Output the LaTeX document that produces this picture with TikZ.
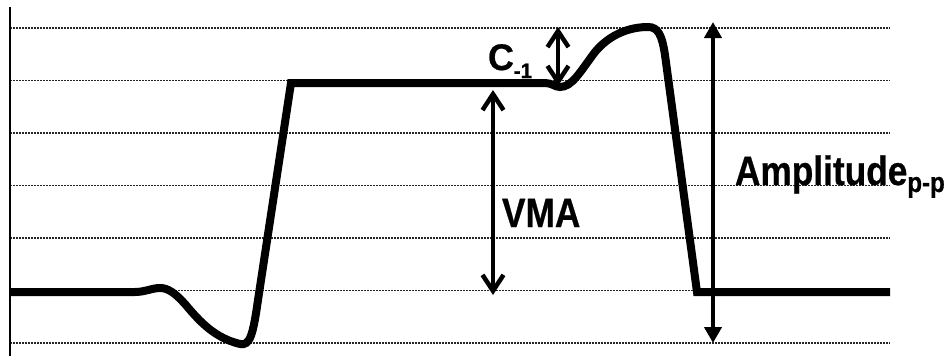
\documentclass[tikz,border=0pt]{standalone}
\usepackage{fontspec}
\usetikzlibrary{arrows.meta}
\newfontfamily\labfont[FakeStretch=0.86,FakeBold=0.6]{Liberation Sans}
\newfontfamily\labfontC[FakeStretch=0.97,FakeBold=0.6]{Liberation Sans}
\begin{document}
\begin{tikzpicture}[x=1pt,y=-1pt,
  grid/.style={draw=black!85,line width=1.7pt,dash pattern=on 1.5pt off 1.5pt},
  wave/.style={draw=black,line width=8pt,line join=miter,line cap=butt},
  barbarrow/.style={draw=black,line width=4.5pt,
     {Straight Barb[length=16pt,width=21pt,line width=4.5pt]}-{Straight Barb[length=16pt,width=21pt,line width=4.5pt]}},
  triarrow/.style={draw=black,line width=4pt,
     {Triangle[length=16pt,width=17pt]}-{Triangle[length=16pt,width=17pt]}},
  lab/.style={inner sep=0pt,outer sep=0pt,anchor=base west,font=\labfont\bfseries\fontsize{41}{41}\selectfont}]
\useasboundingbox (0,0) rectangle (948,356);
% grid lines
\foreach \yy in {28,80.5,133,185.5,238,290.5,343}{
  \draw[grid] (10,\yy) -- (890,\yy);
}
% vertical axis
\coordinate (axtop) at (10,7);
\coordinate (axbot) at (10,356);
\draw[line width=1.8pt] (axtop) -- (axbot);
% waveform
\draw[wave] (10,292) -- (135,292)
  .. controls (145,292) and (152,288) .. (160,288)
  .. controls (168,288) and (175,293) .. (185,304)
  .. controls (200,322) and (215,338) .. (240,344)
  .. controls (250,346) and (253,335) .. (258,300)
  -- (291,83) -- (545,83)
  .. controls (552,83) and (555,87) .. (560,87)
  .. controls (572,87) and (580,72) .. (595,52)
  .. controls (610,34) and (630,27) .. (648,27)
  .. controls (658,27) and (662,35) .. (665,55)
  -- (697,292) -- (890,292);
% arrows
\coordinate (ctop) at (558,27);
\coordinate (cbot) at (558,86);
\draw[barbarrow] (ctop) -- (cbot);
\coordinate (vtop) at (493,90);
\coordinate (vbot) at (493,295);
\draw[barbarrow] (vtop) -- (vbot);
\coordinate (atop) at (713,22);
\coordinate (abot) at (713,343);
\draw[triarrow] (atop) -- (abot);
% labels
\node[lab,font=\labfontC\bfseries\fontsize{37}{37}\selectfont] (clab) at (488,70) {C\raisebox{-8pt}{\fontsize{21}{21}\selectfont -1}};
\node[lab] (vma) at (502,227) {VMA};
\node[lab] (amp) at (735,185) {Amplitude\raisebox{-7pt}{\fontsize{28}{28}\selectfont p-p}};
\end{tikzpicture}
\end{document}
